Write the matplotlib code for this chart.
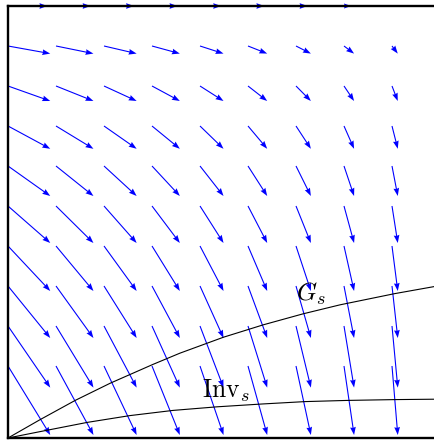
import numpy as np
import matplotlib
matplotlib.use("Agg")
import matplotlib.pyplot as plt

plt.rcParams['mathtext.fontset'] = 'cm'

# grid of arrow tails
x_cols = [0.0, 0.1, 0.2, 0.3, 0.4, 0.5, 0.6, 0.7, 0.8, 0.9]
y_rows = [1.08, 0.98, 0.88, 0.78, 0.68, 0.58, 0.48, 0.38, 0.28, 0.18]

# horizontal components (top row, then the rest), vertical component per row
u_top = [0.082, 0.072, 0.0625, 0.053, 0.044, 0.034, 0.024, 0.0146, 0.005, -0.010]
u_cols = [0.088, 0.078, 0.068, 0.058, 0.049, 0.040, 0.031, 0.021, 0.012, 0.002]
v_rows = [0.0, -0.019, -0.0375, -0.057, -0.075, -0.0925, -0.1125, -0.13, -0.154, -0.1725]

# G_s curve
gs_x = [0.0, 0.067, 0.140, 0.213, 0.302, 0.358, 0.449, 0.532, 0.615, 0.692, 0.806, 0.890, 0.95]
gs_y = [0.0, 0.046, 0.094, 0.137, 0.184, 0.212, 0.252, 0.283, 0.3105, 0.333, 0.361, 0.379, 0.39]

# Inv_s curve
inv_x = [0.0, 0.067, 0.165, 0.254, 0.344, 0.436, 0.529, 0.619, 0.708, 0.806, 0.890, 0.95]
inv_y = [0.0, 0.016, 0.039, 0.056, 0.069, 0.078, 0.085, 0.091, 0.094, 0.096, 0.097, 0.097]

X, Y = np.meshgrid(x_cols, y_rows)
U = np.tile(u_cols, (len(y_rows), 1))
U[0, :] = u_top
V = np.tile(np.array(v_rows)[:, None], (1, len(x_cols)))

fig = plt.figure(figsize=(4.35, 4.41), dpi=100)
ax = fig.add_axes([8 / 435, 3.0 / 441, 456 / 435, 432 / 441])

q = ax.quiver(X, Y, U, V, angles='xy', scale_units='xy', scale=1, color='blue',
              units='dots', width=1.1, headwidth=5.2, headlength=7.2, headaxislength=6.6,
              zorder=1)
q.set_clip_on(False)
q.set_snap(False)

ax.plot(gs_x, gs_y, color='black', lw=0.8)
ax.plot(inv_x, inv_y, color='black', lw=0.8)

ax.text(0.599, 0.344, r'$G_s$', fontsize=18.5, ha='left', va='baseline')
ax.text(0.405, 0.101, r'$\mathrm{Inv}_s$', fontsize=18.5, ha='left', va='baseline')

ax.set_xlim(0, 0.95)
ax.set_ylim(0, 1.08)
ax.set_xticks([])
ax.set_yticks([])
for sp in ax.spines.values():
    sp.set_linewidth(1.7)
    sp.set_zorder(3)
    sp.set_snap(False)

fig.savefig('out.png', dpi=100)
